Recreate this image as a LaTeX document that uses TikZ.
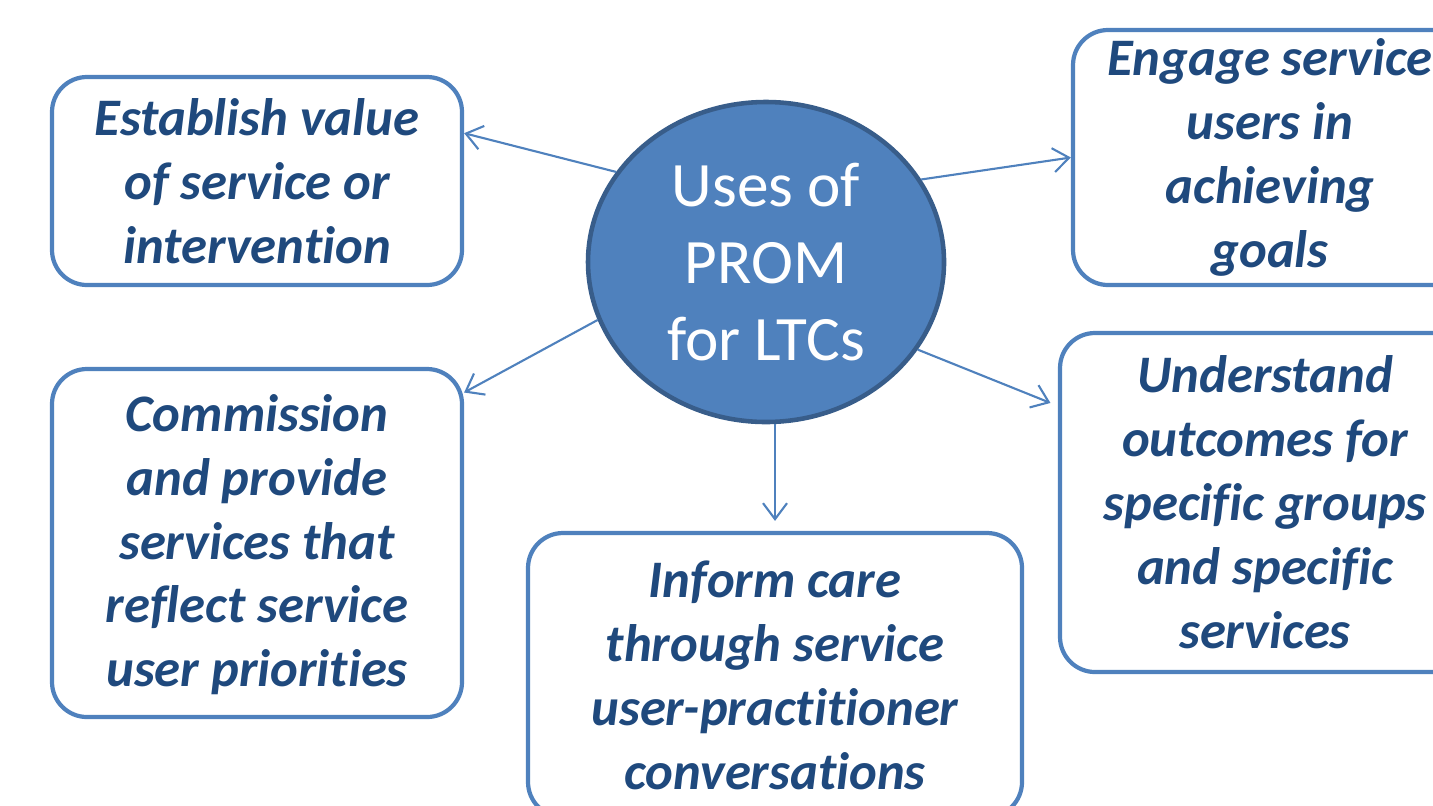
\documentclass[tikz,border=0pt]{standalone}
\usepackage{fontspec}
\setmainfont{Carlito}[Ligatures=NoCommon]
\usepackage[]{tikz}
\usetikzlibrary{positioning}
\usetikzlibrary{arrows.meta}
\usetikzlibrary{shapes.geometric}
\definecolor{ringfill}{HTML}{4F81BD}
\definecolor{ringline}{HTML}{385D8A}
\definecolor{boxline}{HTML}{4F81BD}
\definecolor{usetext}{HTML}{1F497D}
\tikzset{usebox/.style={draw=boxline,line width=1.2pt,rounded corners=0.35cm,fill=white,align=center,inner sep=0pt,text=usetext,font=\fontsize{15}{18.2}\selectfont\bfseries\itshape}}
\tikzset{link/.style={boxline,line width=0.6pt,-{Straight Barb[length=0.16cm,width=0.24cm]}}}

\begin{document}
\begin{tikzpicture}[scale=1]
            \useasboundingbox (0,0) rectangle (14.33,-8.05);
            \clip (0,0) rectangle (14.33,-8.05);
            % centre
            \node[ellipse,fill=ringfill,draw=ringline,line width=1.3pt,minimum width=3.56cm,minimum height=3.2cm,align=center,text=white,font=\fontsize{18}{22}\selectfont] (prom) at (7.66,-2.62) {Uses of\\PROM\\for LTCs};
            % the five uses
            \node[usebox,minimum width=4.1cm,minimum height=2.08cm] (value) at (2.57,-1.81) {Establish value\\of service or\\intervention};
            \node[usebox,minimum width=3.94cm,minimum height=2.55cm] (engage) at (12.70,-1.575) {Engage service\\users in\\achieving\\goals};
            \node[usebox,minimum width=4.1cm,minimum height=3.48cm,text depth=0.05cm] (commission) at (2.57,-5.43) {Commission\\and provide\\services that\\reflect service\\user priorities};
            \node[usebox,minimum width=4.1cm,minimum height=3.39cm] (understand) at (12.65,-5.025) {Understand\\outcomes for\\specific groups\\and specific\\services};
            \node[usebox,minimum width=4.94cm,minimum height=2.84cm] (inform) at (7.75,-6.75) {Inform care\\through service\\user-practitioner\\conversations};
            % arrows
            \draw[link] (prom.149) -- (value.13);
            \draw[link] (prom.28) -- (engage.west);
            \draw[link] (prom.199) -- (commission.36.7);
            \draw[link,shorten >=0.08cm] (prom.330.5) -- (understand.155);
            \draw[link,shorten >=0.1cm] (prom.south -| inform.north) -- (inform.north);
        \end{tikzpicture}
\end{document}
